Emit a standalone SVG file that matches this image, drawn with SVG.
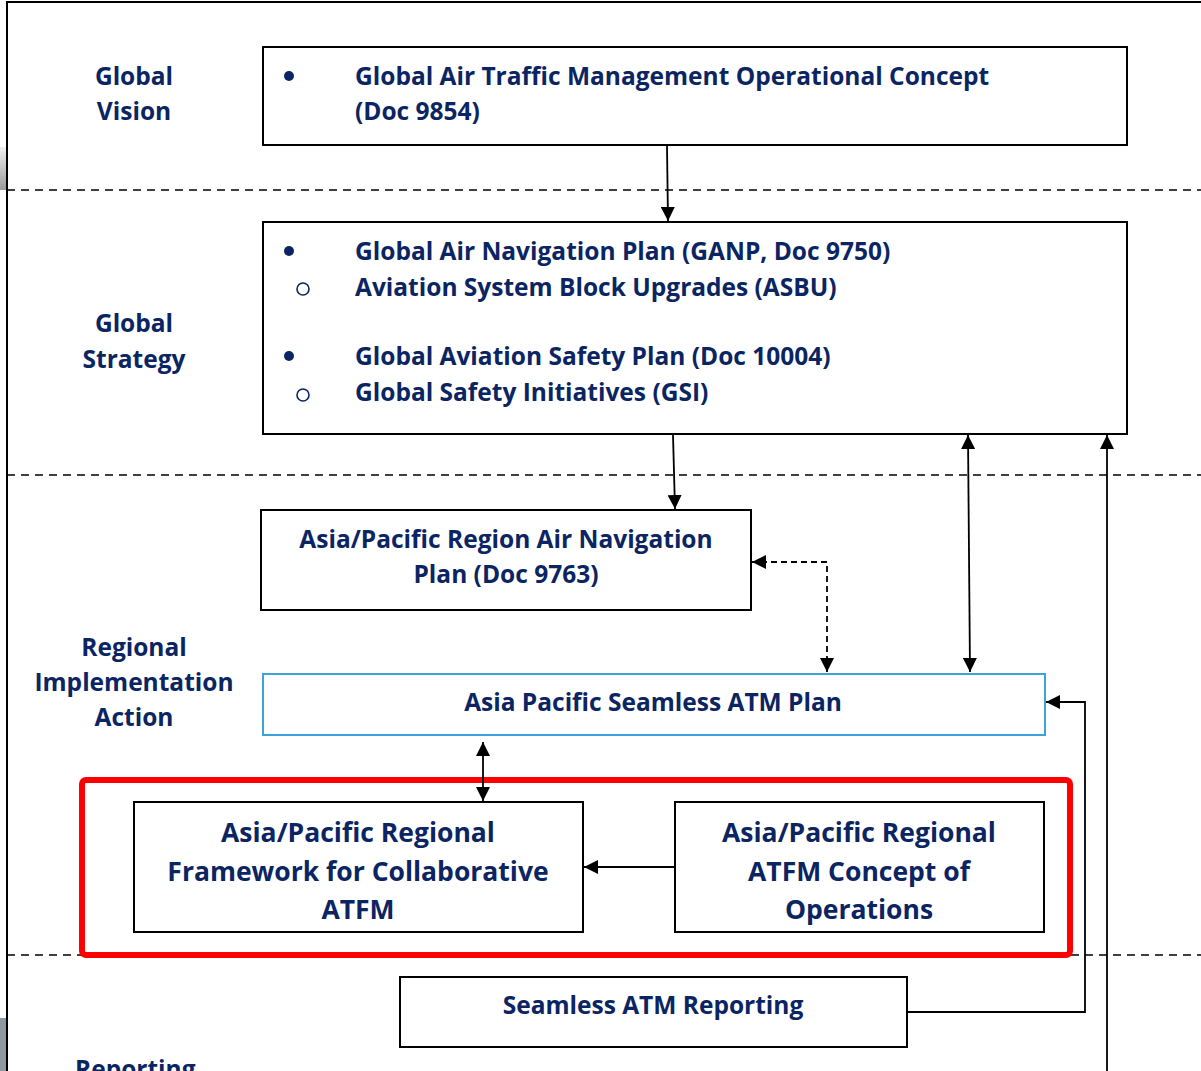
<svg xmlns="http://www.w3.org/2000/svg" width="1201" height="1071" viewBox="0 0 1201 1071">
<defs>
<linearGradient id="gr" x1="0" y1="0" x2="0" y2="1">
<stop offset="0" stop-color="#f0f0f0"/><stop offset="1" stop-color="#9a9a9a"/>
</linearGradient>
<marker id="ah" viewBox="0 0 10 10" refX="10" refY="5" markerWidth="14" markerHeight="14" markerUnits="userSpaceOnUse" orient="auto-start-reverse">
<path d="M0,0 L10,5 L0,10 z" fill="#000"/>
</marker>
</defs>
<style>
.t{font-family:"Open Sans","Liberation Sans",sans-serif;font-weight:bold;fill:#0b2462;font-size:24.5px}
.tb{font-size:26.5px}
.box{fill:#fff;stroke:#000;stroke-width:2}
.sep{stroke:#000;stroke-width:1.5;stroke-dasharray:8 6;fill:none}
.c{stroke:#000;stroke-width:1.8;fill:none}
</style>
<rect width="1201" height="1071" fill="#fff"/>
<rect x="0" y="147" width="6" height="43" fill="url(#gr)"/>
<rect x="0" y="1018" width="6" height="53" fill="#8f999f"/>
<path d="M7,1071 V2 H1201" fill="none" stroke="#000" stroke-width="2"/>
<g id="separators">
<line class="sep" x1="7" y1="190" x2="1201" y2="190"/>
<line class="sep" x1="7" y1="475" x2="1201" y2="475"/>
<line class="sep" x1="7" y1="955" x2="1201" y2="955"/>
</g>
<g id="lbl-vision"><text class="t" text-anchor="middle" x="134" y="85">Global</text><text class="t" text-anchor="middle" x="134" y="120">Vision</text></g>
<g id="lbl-strategy"><text class="t" text-anchor="middle" x="134" y="332">Global</text><text class="t" text-anchor="middle" x="134" y="368">Strategy</text></g>
<g id="lbl-regional"><text class="t" text-anchor="middle" x="134" y="656">Regional</text><text class="t" text-anchor="middle" x="134" y="691">Implementation</text><text class="t" text-anchor="middle" x="134" y="726">Action</text></g>
<g id="lbl-reporting"><text class="t" x="75" y="1078">Reporting</text></g>
<g id="red-frame"><rect x="82" y="780" width="988" height="175" rx="4" fill="none" stroke="#ff0000" stroke-width="6"/></g>
<g id="n-concept">
<rect class="box" x="263" y="47" width="864" height="98"/>
<circle cx="289" cy="76" r="5" fill="#0b2462"/>
<text class="t" x="355" y="85">Global Air Traffic Management Operational Concept</text>
<text class="t" x="355" y="120">(Doc 9854)</text>
</g>
<g id="n-ganp">
<rect class="box" x="263" y="222" width="864" height="212"/>
<circle cx="289" cy="251" r="5" fill="#0b2462"/>
<text class="t" x="355" y="260">Global Air Navigation Plan (GANP, Doc 9750)</text>
<circle cx="303" cy="289" r="6" fill="none" stroke="#0b2462" stroke-width="1.6"/>
<text class="t" x="355" y="296">Aviation System Block Upgrades (ASBU)</text>
<circle cx="289" cy="356" r="5" fill="#0b2462"/>
<text class="t" x="355" y="365">Global Aviation Safety Plan (Doc 10004)</text>
<circle cx="303" cy="395" r="6" fill="none" stroke="#0b2462" stroke-width="1.6"/>
<text class="t" x="355" y="401">Global Safety Initiatives (GSI)</text>
</g>
<g id="n-anp">
<rect class="box" x="261" y="510" width="490" height="100"/>
<text class="t" text-anchor="middle" x="506" y="548">Asia/Pacific Region Air Navigation</text>
<text class="t" text-anchor="middle" x="506" y="583">Plan (Doc 9763)</text>
</g>
<g id="n-seamless">
<rect x="263" y="674" width="782" height="61" fill="#fff" stroke="#3ba3dc" stroke-width="2"/>
<text class="t" text-anchor="middle" x="653" y="711">Asia Pacific Seamless ATM Plan</text>
</g>
<g id="n-framework">
<rect class="box" x="134" y="802" width="449" height="130"/>
<text class="t tb" text-anchor="middle" x="358" y="842">Asia/Pacific Regional</text>
<text class="t tb" text-anchor="middle" x="358" y="881">Framework for Collaborative</text>
<text class="t tb" text-anchor="middle" x="358" y="919">ATFM</text>
</g>
<g id="n-conops">
<rect class="box" x="675" y="802" width="369" height="130"/>
<text class="t tb" text-anchor="middle" x="859" y="842">Asia/Pacific Regional</text>
<text class="t tb" text-anchor="middle" x="859" y="881">ATFM Concept of</text>
<text class="t tb" text-anchor="middle" x="859" y="919">Operations</text>
</g>
<g id="n-reporting">
<rect class="box" x="400" y="977" width="507" height="70"/>
<text class="t" text-anchor="middle" x="653" y="1014">Seamless ATM Reporting</text>
</g>
<g id="connectors">
<line class="c" x1="667" y1="146" x2="668" y2="221" marker-end="url(#ah)"/>
<line class="c" x1="673" y1="435" x2="675" y2="509" marker-end="url(#ah)"/>
<polyline class="c" points="827,672 827,562 752,562" stroke-dasharray="6 4" marker-start="url(#ah)" marker-end="url(#ah)"/>
<line class="c" x1="968" y1="435" x2="970" y2="672" marker-start="url(#ah)" marker-end="url(#ah)"/>
<line class="c" x1="1107" y1="1071" x2="1107" y2="435" marker-end="url(#ah)"/>
<polyline class="c" points="908,1012 1085,1012 1085,702 1046,702" stroke-width="1.5" marker-end="url(#ah)"/>
<line class="c" x1="483" y1="742" x2="483" y2="801" marker-start="url(#ah)" marker-end="url(#ah)"/>
<line class="c" x1="675" y1="867" x2="584" y2="867" marker-end="url(#ah)"/>
</g>
</svg>
